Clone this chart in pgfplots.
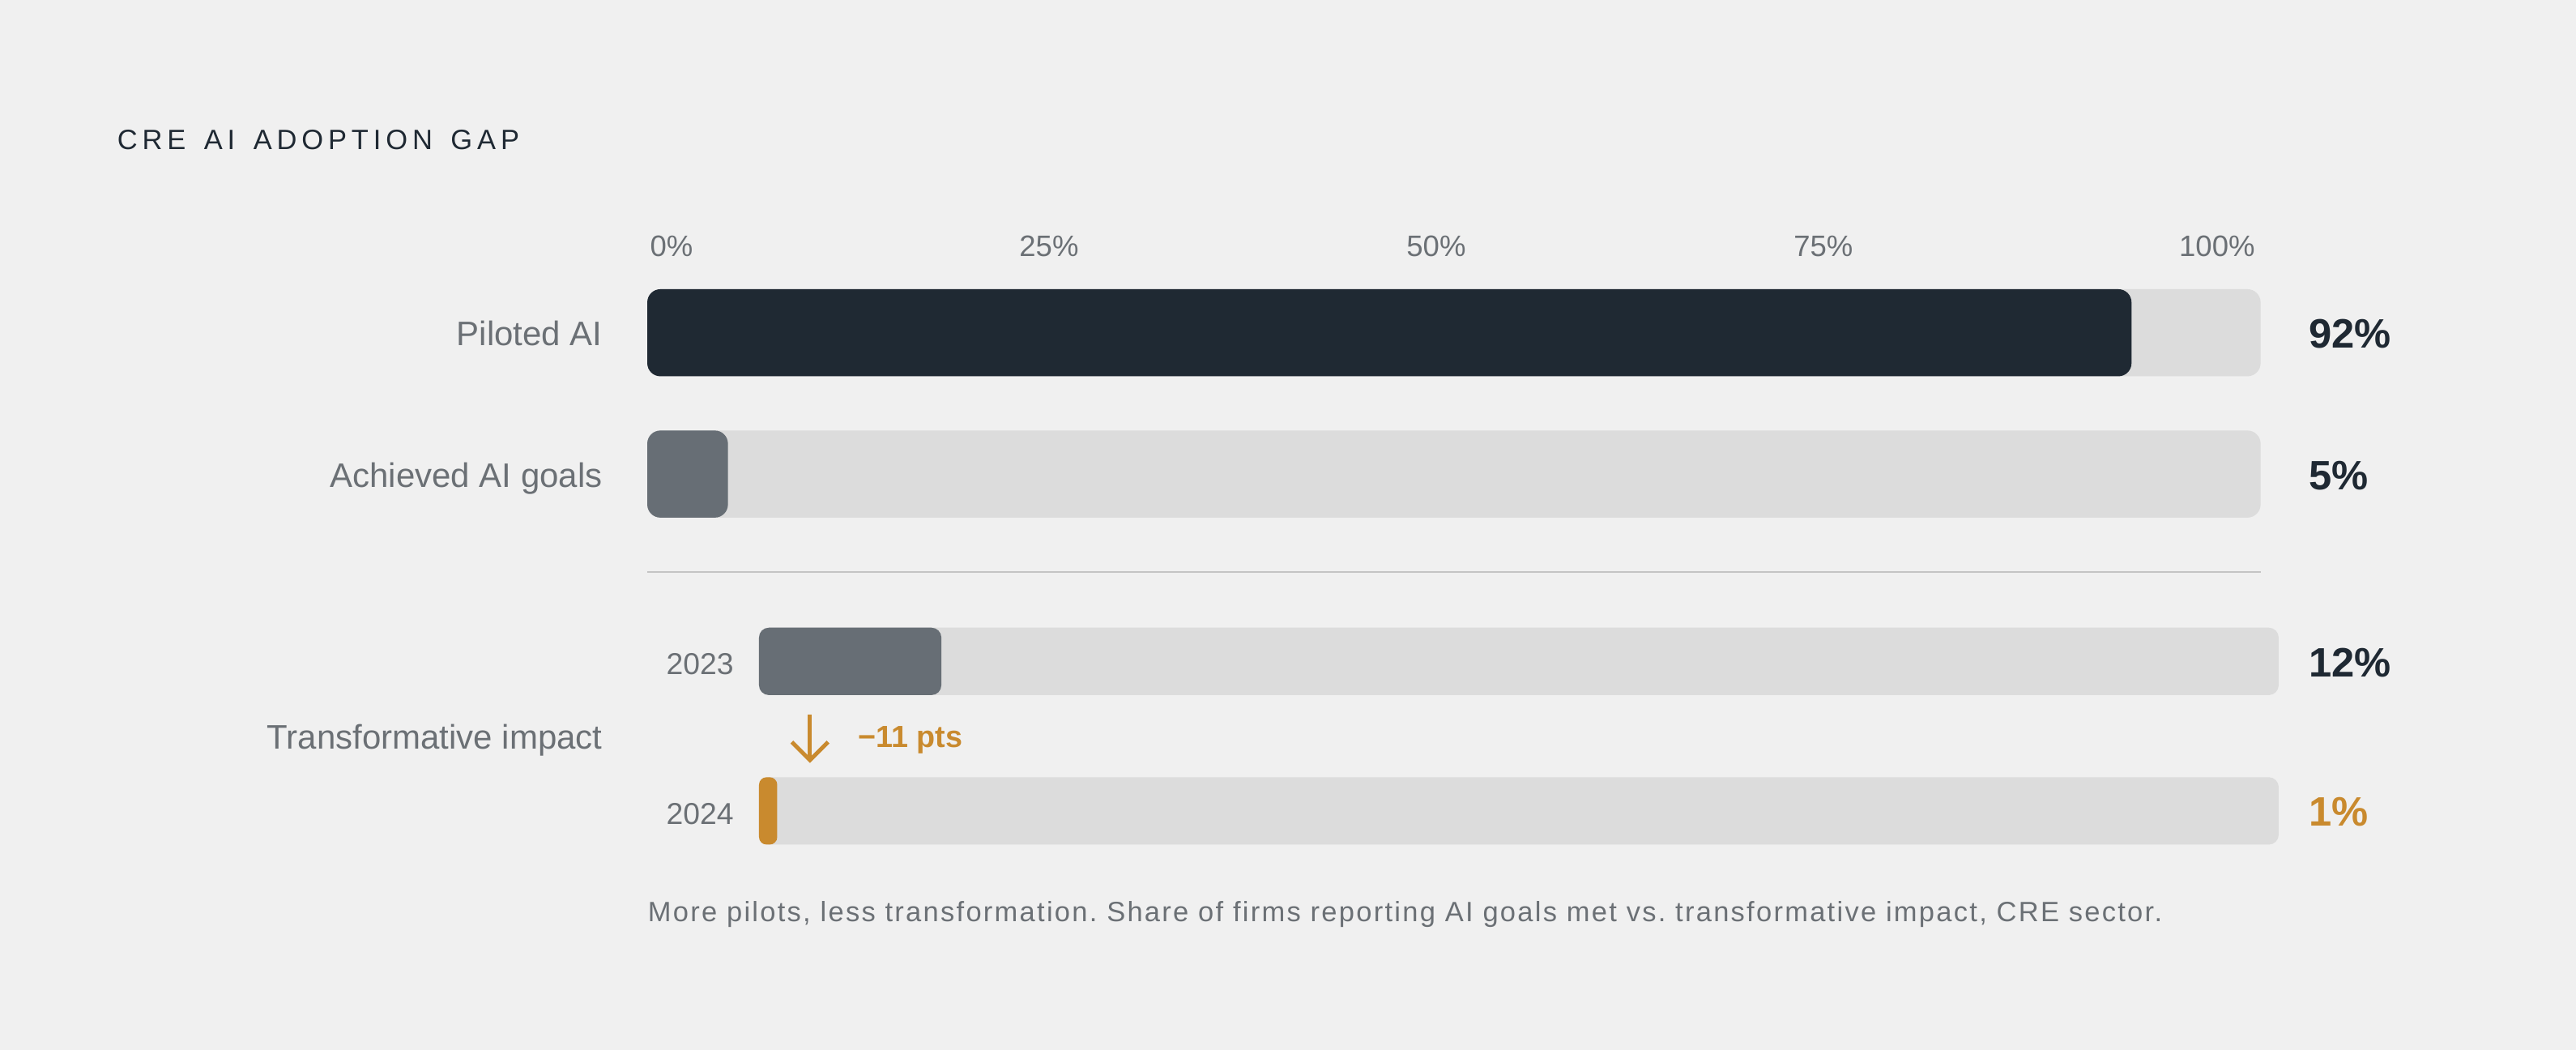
\documentclass[border=0pt]{standalone}
\usepackage{fontspec}
\setmainfont{Liberation Sans}
\newfontfamily\titlefont{Liberation Sans}[LetterSpace=17,WordSpace=1.46]
\newfontfamily\capfont{Liberation Sans}[LetterSpace=6.6]
\usepackage{pgfplots}
\pgfplotsset{compat=1.18}

\definecolor{bg}{HTML}{F0F0F0}
\definecolor{track}{HTML}{DCDCDC}
\definecolor{ink}{HTML}{1F2933}
\definecolor{slate}{HTML}{676E75}
\definecolor{lab}{HTML}{6B7075}
\definecolor{amber}{HTML}{C98A2E}
\definecolor{rule}{HTML}{C4C4C4}

\pgfplotsset{
  barrow/.style={
    xbar, scale only axis, clip=false, enlargelimits=false,
    xmin=0, xmax=100, ymin=-0.5, ymax=1.5,
    axis line style={draw=none}, major tick length=0pt,
    ytick={0,1},
    yticklabel style={anchor=base east, inner sep=0pt, yshift=-0.4em, text=lab},
  },
}
\tikzset{
  valuelab/.style={anchor=base west, inner sep=0pt, yshift=-0.47em,
    font=\fontsize{12.5}{14}\bfseries},
}

\begin{document}
\frenchspacing
\begin{tikzpicture}
\fill[bg] (0,0) rectangle (784pt,-319.5pt);

% title
\node[anchor=base west, inner sep=0pt, text=ink,
  font=\titlefont\fontsize{8.5}{10}\selectfont]
  at (35.5pt,-45.5pt) {CRE AI ADOPTION GAP};

% top block: piloted vs achieved
\begin{axis}[barrow,
  at={(197pt,-165.75pt)}, anchor=south west,
  width=491pt, height=86pt,
  bar width=26.5pt,
  yticklabels={Achieved AI goals, Piloted AI},
  yticklabel style={font=\fontsize{10.35}{12}\selectfont, xshift=-13.5pt},
  xticklabel pos=upper,
  xtick={1.5,24.9,48.9,72.9,97.3},
  xticklabels={0\%,25\%,50\%,75\%,100\%},
  xticklabel style={anchor=center, inner sep=0pt, yshift=4.75pt, text=lab,
    font=\fontsize{9}{11}\selectfont},
]
\addplot[bar shift=0pt, fill=track, draw=none, rounded corners=4pt] coordinates {(100,1) (100,0)};
\addplot[bar shift=0pt, fill=ink, draw=none, rounded corners=4pt] coordinates {(92,1)};
\addplot[bar shift=0pt, fill=slate, draw=none, rounded corners=4pt] coordinates {(5,0)};
\node[valuelab, text=ink] at (axis cs:102.95,1) {92\%};
\node[valuelab, text=ink] at (axis cs:102.95,0) {5\%};
\end{axis}

% divider
\draw[rule, line width=0.6pt] (197pt,-174pt) -- (688pt,-174pt);

% bottom block: transformative impact by year
\begin{axis}[barrow,
  at={(231pt,-269.5pt)}, anchor=south west,
  width=462.5pt, height=91pt,
  bar width=20.5pt,
  xtick=\empty,
  yticklabels={2024, 2023},
  yticklabel style={font=\fontsize{9.2}{11}\selectfont, xshift=-7.5pt},
]
\addplot[bar shift=0pt, fill=track, draw=none, rounded corners=3pt] coordinates {(100,1) (100,0)};
\addplot[bar shift=0pt, fill=slate, draw=none, rounded corners=3pt] coordinates {(12,1)};
\addplot[bar shift=0pt, fill=amber, draw=none, rounded corners=2.3pt] coordinates {(1.2,0)};
\node[valuelab, text=ink] at (axis cs:101.95,1) {12\%};
\node[valuelab, text=amber] at (axis cs:101.95,0) {1\%};
\end{axis}

\node[anchor=base east, inner sep=0pt, yshift=-0.4em, text=lab,
  font=\fontsize{10.35}{12}\selectfont] at (183.5pt,-224pt) {Transformative impact};

% change annotation
\draw[amber, line width=1.2pt] (246.5pt,-217.5pt) -- (246.5pt,-231pt);
\draw[amber, line width=1.2pt, line join=miter] (241pt,-225.8pt) -- (246.5pt,-231.3pt) -- (252pt,-225.8pt);
\node[anchor=base west, inner sep=0pt, yshift=-0.35em, text=amber,
  font=\fontsize{9.3}{11}\bfseries] at (261pt,-224pt) {−11 pts};

% caption
\node[anchor=base west, inner sep=0pt, yshift=-0.35em, text=lab,
  font=\capfont\fontsize{8.5}{10}\selectfont] at (197pt,-277pt)
  {More pilots, less transformation. Share of firms reporting AI goals met vs. transformative impact, CRE sector.};
\end{tikzpicture}
\end{document}
